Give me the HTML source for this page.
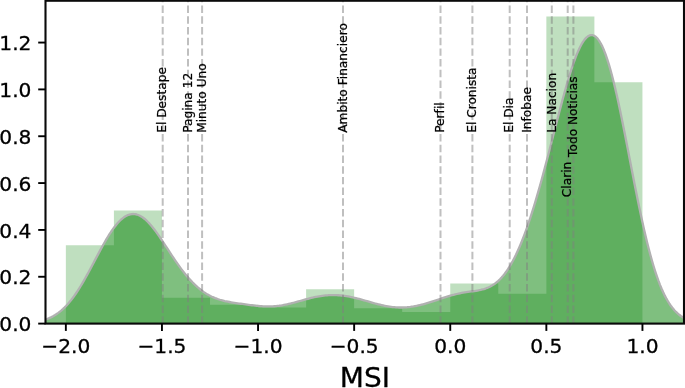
<!DOCTYPE html>
<html><head><meta charset="utf-8"><title>MSI</title>
<style>html,body{margin:0;padding:0;background:#fff;overflow:hidden}svg{display:block}text{font-variant-ligatures:none;font-feature-settings:"liga" 0,"clig" 0;font-kerning:normal;font-family:"DejaVu Sans","Liberation Sans",sans-serif;fill:#000}</style></head><body>
<svg width="685" height="388" viewBox="0 0 685 388">
<rect x="0" y="0" width="685" height="388" fill="#fff"/>
<defs><clipPath id="ax"><rect x="45.5" y="0.75" width="638.5" height="322.85"/></clipPath></defs>
<g clip-path="url(#ax)">
<path d="M65.85,323.60 L65.85,245.14 L113.90,245.14 L113.90,210.48 L161.95,210.48 L161.95,297.84 L210.00,297.84 L210.00,304.86 L258.05,304.86 L258.05,307.44 L306.10,307.44 L306.10,289.31 L354.15,289.31 L354.15,308.31 L402.20,308.31 L402.20,312.12 L450.25,312.12 L450.25,283.55 L498.30,283.55 L498.30,293.69 L546.35,293.69 L546.35,16.56 L594.40,16.56 L594.40,82.37 L642.45,82.37 L642.45,323.60 Z" fill="rgb(0,128,0)" fill-opacity="0.25" stroke="none"/>
<path d="M45.50,319.57 L47.10,319.00 L48.70,318.36 L50.30,317.66 L51.90,316.87 L53.50,316.01 L55.10,315.06 L56.70,314.02 L58.30,312.89 L59.90,311.67 L61.50,310.34 L63.10,308.90 L64.70,307.36 L66.30,305.72 L67.90,303.96 L69.50,302.09 L71.10,300.11 L72.70,298.02 L74.30,295.82 L75.90,293.52 L77.51,291.11 L79.11,288.61 L80.71,286.02 L82.31,283.34 L83.91,280.59 L85.51,277.76 L87.11,274.88 L88.71,271.94 L90.31,268.97 L91.91,265.96 L93.51,262.93 L95.11,259.90 L96.71,256.87 L98.31,253.85 L99.91,250.86 L101.51,247.92 L103.11,245.02 L104.71,242.20 L106.31,239.45 L107.91,236.78 L109.51,234.22 L111.11,231.77 L112.71,229.44 L114.31,227.24 L115.91,225.18 L117.51,223.28 L119.11,221.53 L120.71,219.95 L122.31,218.55 L123.91,217.33 L125.51,216.29 L127.11,215.44 L128.71,214.79 L130.31,214.34 L131.91,214.08 L133.51,214.02 L135.11,214.17 L136.71,214.50 L138.31,215.03 L139.91,215.75 L141.52,216.65 L143.12,217.73 L144.72,218.98 L146.32,220.39 L147.92,221.95 L149.52,223.65 L151.12,225.48 L152.72,227.42 L154.32,229.48 L155.92,231.62 L157.52,233.85 L159.12,236.15 L160.72,238.50 L162.32,240.90 L163.92,243.33 L165.52,245.78 L167.12,248.23 L168.72,250.69 L170.32,253.14 L171.92,255.57 L173.52,257.97 L175.12,260.33 L176.72,262.65 L178.32,264.93 L179.92,267.15 L181.52,269.32 L183.12,271.42 L184.72,273.46 L186.32,275.42 L187.92,277.32 L189.52,279.15 L191.12,280.89 L192.72,282.57 L194.32,284.16 L195.92,285.68 L197.52,287.12 L199.12,288.49 L200.72,289.77 L202.32,290.98 L203.92,292.11 L205.53,293.17 L207.13,294.16 L208.73,295.07 L210.33,295.92 L211.93,296.70 L213.53,297.42 L215.13,298.08 L216.73,298.69 L218.33,299.24 L219.93,299.75 L221.53,300.21 L223.13,300.63 L224.73,301.02 L226.33,301.37 L227.93,301.70 L229.53,302.00 L231.13,302.29 L232.73,302.56 L234.33,302.81 L235.93,303.06 L237.53,303.30 L239.13,303.53 L240.73,303.76 L242.33,303.98 L243.93,304.20 L245.53,304.42 L247.13,304.64 L248.73,304.85 L250.33,305.06 L251.93,305.26 L253.53,305.45 L255.13,305.63 L256.73,305.80 L258.33,305.96 L259.93,306.10 L261.53,306.22 L263.13,306.31 L264.73,306.39 L266.33,306.44 L267.93,306.46 L269.54,306.45 L271.14,306.42 L272.74,306.35 L274.34,306.25 L275.94,306.12 L277.54,305.95 L279.14,305.76 L280.74,305.53 L282.34,305.27 L283.94,304.98 L285.54,304.67 L287.14,304.33 L288.74,303.97 L290.34,303.58 L291.94,303.18 L293.54,302.76 L295.14,302.33 L296.74,301.89 L298.34,301.44 L299.94,300.99 L301.54,300.53 L303.14,300.08 L304.74,299.64 L306.34,299.20 L307.94,298.77 L309.54,298.36 L311.14,297.96 L312.74,297.58 L314.34,297.22 L315.94,296.88 L317.54,296.57 L319.14,296.28 L320.74,296.02 L322.34,295.79 L323.94,295.59 L325.54,295.42 L327.14,295.28 L328.74,295.17 L330.34,295.10 L331.94,295.06 L333.55,295.05 L335.15,295.08 L336.75,295.14 L338.35,295.23 L339.95,295.35 L341.55,295.51 L343.15,295.70 L344.75,295.91 L346.35,296.16 L347.95,296.43 L349.55,296.72 L351.15,297.05 L352.75,297.39 L354.35,297.76 L355.95,298.14 L357.55,298.55 L359.15,298.97 L360.75,299.40 L362.35,299.84 L363.95,300.29 L365.55,300.75 L367.15,301.21 L368.75,301.67 L370.35,302.14 L371.95,302.59 L373.55,303.04 L375.15,303.49 L376.75,303.92 L378.35,304.33 L379.95,304.73 L381.55,305.11 L383.15,305.47 L384.75,305.81 L386.35,306.12 L387.95,306.40 L389.55,306.65 L391.15,306.87 L392.75,307.07 L394.35,307.22 L395.95,307.35 L397.56,307.44 L399.16,307.49 L400.76,307.51 L402.36,307.49 L403.96,307.44 L405.56,307.35 L407.16,307.23 L408.76,307.07 L410.36,306.88 L411.96,306.65 L413.56,306.40 L415.16,306.11 L416.76,305.80 L418.36,305.46 L419.96,305.09 L421.56,304.70 L423.16,304.28 L424.76,303.85 L426.36,303.39 L427.96,302.91 L429.56,302.42 L431.16,301.92 L432.76,301.40 L434.36,300.88 L435.96,300.35 L437.56,299.81 L439.16,299.27 L440.76,298.74 L442.36,298.20 L443.96,297.68 L445.56,297.16 L447.16,296.65 L448.76,296.16 L450.36,295.69 L451.96,295.23 L453.56,294.80 L455.16,294.39 L456.76,294.00 L458.36,293.63 L459.96,293.30 L461.57,292.98 L463.17,292.69 L464.77,292.42 L466.37,292.17 L467.97,291.93 L469.57,291.70 L471.17,291.48 L472.77,291.25 L474.37,291.02 L475.97,290.78 L477.57,290.51 L479.17,290.21 L480.77,289.87 L482.37,289.49 L483.97,289.04 L485.57,288.53 L487.17,287.94 L488.77,287.26 L490.37,286.48 L491.97,285.60 L493.57,284.60 L495.17,283.48 L496.77,282.22 L498.37,280.82 L499.97,279.28 L501.57,277.59 L503.17,275.73 L504.77,273.71 L506.37,271.53 L507.97,269.17 L509.57,266.64 L511.17,263.93 L512.77,261.05 L514.37,257.98 L515.97,254.74 L517.57,251.31 L519.17,247.71 L520.77,243.93 L522.37,239.97 L523.97,235.84 L525.58,231.54 L527.18,227.07 L528.78,222.43 L530.38,217.63 L531.98,212.67 L533.58,207.56 L535.18,202.31 L536.78,196.91 L538.38,191.39 L539.98,185.74 L541.58,179.97 L543.18,174.10 L544.78,168.13 L546.38,162.08 L547.98,155.96 L549.58,149.78 L551.18,143.57 L552.78,137.32 L554.38,131.07 L555.98,124.83 L557.58,118.62 L559.18,112.45 L560.78,106.36 L562.38,100.36 L563.98,94.47 L565.58,88.72 L567.18,83.14 L568.78,77.74 L570.38,72.55 L571.98,67.60 L573.58,62.90 L575.18,58.50 L576.78,54.40 L578.38,50.64 L579.98,47.23 L581.58,44.21 L583.18,41.58 L584.78,39.37 L586.38,37.61 L587.98,36.29 L589.59,35.45 L591.19,35.09 L592.79,35.22 L594.39,35.86 L595.99,37.00 L597.59,38.65 L599.19,40.81 L600.79,43.47 L602.39,46.64 L603.99,50.30 L605.59,54.44 L607.19,59.05 L608.79,64.10 L610.39,69.59 L611.99,75.48 L613.59,81.75 L615.19,88.37 L616.79,95.32 L618.39,102.56 L619.99,110.05 L621.59,117.77 L623.19,125.68 L624.79,133.74 L626.39,141.91 L627.99,150.15 L629.59,158.44 L631.19,166.73 L632.79,174.98 L634.39,183.17 L635.99,191.25 L637.59,199.21 L639.19,207.00 L640.79,214.60 L642.39,221.99 L643.99,229.14 L645.59,236.04 L647.19,242.66 L648.79,249.00 L650.39,255.05 L651.99,260.79 L653.60,266.22 L655.20,271.34 L656.80,276.14 L658.40,280.64 L660.00,284.83 L661.60,288.72 L663.20,292.32 L664.80,295.63 L666.40,298.67 L668.00,301.45 L669.60,303.99 L671.20,306.29 L672.80,308.37 L674.40,310.24 L676.00,311.92 L677.60,313.43 L679.20,314.77 L680.80,315.96 L682.40,317.01 L684.00,317.93 L684.00,323.60 L45.50,323.60 Z" fill="rgb(0,128,0)" fill-opacity="0.5" stroke="none"/>
<path d="M45.50,319.57 L47.10,319.00 L48.70,318.36 L50.30,317.66 L51.90,316.87 L53.50,316.01 L55.10,315.06 L56.70,314.02 L58.30,312.89 L59.90,311.67 L61.50,310.34 L63.10,308.90 L64.70,307.36 L66.30,305.72 L67.90,303.96 L69.50,302.09 L71.10,300.11 L72.70,298.02 L74.30,295.82 L75.90,293.52 L77.51,291.11 L79.11,288.61 L80.71,286.02 L82.31,283.34 L83.91,280.59 L85.51,277.76 L87.11,274.88 L88.71,271.94 L90.31,268.97 L91.91,265.96 L93.51,262.93 L95.11,259.90 L96.71,256.87 L98.31,253.85 L99.91,250.86 L101.51,247.92 L103.11,245.02 L104.71,242.20 L106.31,239.45 L107.91,236.78 L109.51,234.22 L111.11,231.77 L112.71,229.44 L114.31,227.24 L115.91,225.18 L117.51,223.28 L119.11,221.53 L120.71,219.95 L122.31,218.55 L123.91,217.33 L125.51,216.29 L127.11,215.44 L128.71,214.79 L130.31,214.34 L131.91,214.08 L133.51,214.02 L135.11,214.17 L136.71,214.50 L138.31,215.03 L139.91,215.75 L141.52,216.65 L143.12,217.73 L144.72,218.98 L146.32,220.39 L147.92,221.95 L149.52,223.65 L151.12,225.48 L152.72,227.42 L154.32,229.48 L155.92,231.62 L157.52,233.85 L159.12,236.15 L160.72,238.50 L162.32,240.90 L163.92,243.33 L165.52,245.78 L167.12,248.23 L168.72,250.69 L170.32,253.14 L171.92,255.57 L173.52,257.97 L175.12,260.33 L176.72,262.65 L178.32,264.93 L179.92,267.15 L181.52,269.32 L183.12,271.42 L184.72,273.46 L186.32,275.42 L187.92,277.32 L189.52,279.15 L191.12,280.89 L192.72,282.57 L194.32,284.16 L195.92,285.68 L197.52,287.12 L199.12,288.49 L200.72,289.77 L202.32,290.98 L203.92,292.11 L205.53,293.17 L207.13,294.16 L208.73,295.07 L210.33,295.92 L211.93,296.70 L213.53,297.42 L215.13,298.08 L216.73,298.69 L218.33,299.24 L219.93,299.75 L221.53,300.21 L223.13,300.63 L224.73,301.02 L226.33,301.37 L227.93,301.70 L229.53,302.00 L231.13,302.29 L232.73,302.56 L234.33,302.81 L235.93,303.06 L237.53,303.30 L239.13,303.53 L240.73,303.76 L242.33,303.98 L243.93,304.20 L245.53,304.42 L247.13,304.64 L248.73,304.85 L250.33,305.06 L251.93,305.26 L253.53,305.45 L255.13,305.63 L256.73,305.80 L258.33,305.96 L259.93,306.10 L261.53,306.22 L263.13,306.31 L264.73,306.39 L266.33,306.44 L267.93,306.46 L269.54,306.45 L271.14,306.42 L272.74,306.35 L274.34,306.25 L275.94,306.12 L277.54,305.95 L279.14,305.76 L280.74,305.53 L282.34,305.27 L283.94,304.98 L285.54,304.67 L287.14,304.33 L288.74,303.97 L290.34,303.58 L291.94,303.18 L293.54,302.76 L295.14,302.33 L296.74,301.89 L298.34,301.44 L299.94,300.99 L301.54,300.53 L303.14,300.08 L304.74,299.64 L306.34,299.20 L307.94,298.77 L309.54,298.36 L311.14,297.96 L312.74,297.58 L314.34,297.22 L315.94,296.88 L317.54,296.57 L319.14,296.28 L320.74,296.02 L322.34,295.79 L323.94,295.59 L325.54,295.42 L327.14,295.28 L328.74,295.17 L330.34,295.10 L331.94,295.06 L333.55,295.05 L335.15,295.08 L336.75,295.14 L338.35,295.23 L339.95,295.35 L341.55,295.51 L343.15,295.70 L344.75,295.91 L346.35,296.16 L347.95,296.43 L349.55,296.72 L351.15,297.05 L352.75,297.39 L354.35,297.76 L355.95,298.14 L357.55,298.55 L359.15,298.97 L360.75,299.40 L362.35,299.84 L363.95,300.29 L365.55,300.75 L367.15,301.21 L368.75,301.67 L370.35,302.14 L371.95,302.59 L373.55,303.04 L375.15,303.49 L376.75,303.92 L378.35,304.33 L379.95,304.73 L381.55,305.11 L383.15,305.47 L384.75,305.81 L386.35,306.12 L387.95,306.40 L389.55,306.65 L391.15,306.87 L392.75,307.07 L394.35,307.22 L395.95,307.35 L397.56,307.44 L399.16,307.49 L400.76,307.51 L402.36,307.49 L403.96,307.44 L405.56,307.35 L407.16,307.23 L408.76,307.07 L410.36,306.88 L411.96,306.65 L413.56,306.40 L415.16,306.11 L416.76,305.80 L418.36,305.46 L419.96,305.09 L421.56,304.70 L423.16,304.28 L424.76,303.85 L426.36,303.39 L427.96,302.91 L429.56,302.42 L431.16,301.92 L432.76,301.40 L434.36,300.88 L435.96,300.35 L437.56,299.81 L439.16,299.27 L440.76,298.74 L442.36,298.20 L443.96,297.68 L445.56,297.16 L447.16,296.65 L448.76,296.16 L450.36,295.69 L451.96,295.23 L453.56,294.80 L455.16,294.39 L456.76,294.00 L458.36,293.63 L459.96,293.30 L461.57,292.98 L463.17,292.69 L464.77,292.42 L466.37,292.17 L467.97,291.93 L469.57,291.70 L471.17,291.48 L472.77,291.25 L474.37,291.02 L475.97,290.78 L477.57,290.51 L479.17,290.21 L480.77,289.87 L482.37,289.49 L483.97,289.04 L485.57,288.53 L487.17,287.94 L488.77,287.26 L490.37,286.48 L491.97,285.60 L493.57,284.60 L495.17,283.48 L496.77,282.22 L498.37,280.82 L499.97,279.28 L501.57,277.59 L503.17,275.73 L504.77,273.71 L506.37,271.53 L507.97,269.17 L509.57,266.64 L511.17,263.93 L512.77,261.05 L514.37,257.98 L515.97,254.74 L517.57,251.31 L519.17,247.71 L520.77,243.93 L522.37,239.97 L523.97,235.84 L525.58,231.54 L527.18,227.07 L528.78,222.43 L530.38,217.63 L531.98,212.67 L533.58,207.56 L535.18,202.31 L536.78,196.91 L538.38,191.39 L539.98,185.74 L541.58,179.97 L543.18,174.10 L544.78,168.13 L546.38,162.08 L547.98,155.96 L549.58,149.78 L551.18,143.57 L552.78,137.32 L554.38,131.07 L555.98,124.83 L557.58,118.62 L559.18,112.45 L560.78,106.36 L562.38,100.36 L563.98,94.47 L565.58,88.72 L567.18,83.14 L568.78,77.74 L570.38,72.55 L571.98,67.60 L573.58,62.90 L575.18,58.50 L576.78,54.40 L578.38,50.64 L579.98,47.23 L581.58,44.21 L583.18,41.58 L584.78,39.37 L586.38,37.61 L587.98,36.29 L589.59,35.45 L591.19,35.09 L592.79,35.22 L594.39,35.86 L595.99,37.00 L597.59,38.65 L599.19,40.81 L600.79,43.47 L602.39,46.64 L603.99,50.30 L605.59,54.44 L607.19,59.05 L608.79,64.10 L610.39,69.59 L611.99,75.48 L613.59,81.75 L615.19,88.37 L616.79,95.32 L618.39,102.56 L619.99,110.05 L621.59,117.77 L623.19,125.68 L624.79,133.74 L626.39,141.91 L627.99,150.15 L629.59,158.44 L631.19,166.73 L632.79,174.98 L634.39,183.17 L635.99,191.25 L637.59,199.21 L639.19,207.00 L640.79,214.60 L642.39,221.99 L643.99,229.14 L645.59,236.04 L647.19,242.66 L648.79,249.00 L650.39,255.05 L651.99,260.79 L653.60,266.22 L655.20,271.34 L656.80,276.14 L658.40,280.64 L660.00,284.83 L661.60,288.72 L663.20,292.32 L664.80,295.63 L666.40,298.67 L668.00,301.45 L669.60,303.99 L671.20,306.29 L672.80,308.37 L674.40,310.24 L676.00,311.92 L677.60,313.43 L679.20,314.77 L680.80,315.96 L682.40,317.01 L684.00,317.93" fill="none" stroke="rgb(177,177,177)" stroke-width="2.3" stroke-linejoin="round"/>
<line x1="162.70" y1="323.60" x2="162.70" y2="0.75" stroke="rgb(128,128,128)" stroke-opacity="0.5" stroke-width="2" stroke-dasharray="7.47 3.24"/>
<line x1="188.00" y1="323.60" x2="188.00" y2="0.75" stroke="rgb(128,128,128)" stroke-opacity="0.5" stroke-width="2" stroke-dasharray="7.47 3.24"/>
<line x1="202.10" y1="323.60" x2="202.10" y2="0.75" stroke="rgb(128,128,128)" stroke-opacity="0.5" stroke-width="2" stroke-dasharray="7.47 3.24"/>
<line x1="343.00" y1="323.60" x2="343.00" y2="0.75" stroke="rgb(128,128,128)" stroke-opacity="0.5" stroke-width="2" stroke-dasharray="7.47 3.24"/>
<line x1="440.50" y1="323.60" x2="440.50" y2="0.75" stroke="rgb(128,128,128)" stroke-opacity="0.5" stroke-width="2" stroke-dasharray="7.47 3.24"/>
<line x1="472.40" y1="323.60" x2="472.40" y2="0.75" stroke="rgb(128,128,128)" stroke-opacity="0.5" stroke-width="2" stroke-dasharray="7.47 3.24"/>
<line x1="509.70" y1="323.60" x2="509.70" y2="0.75" stroke="rgb(128,128,128)" stroke-opacity="0.5" stroke-width="2" stroke-dasharray="7.47 3.24"/>
<line x1="527.00" y1="323.60" x2="527.00" y2="0.75" stroke="rgb(128,128,128)" stroke-opacity="0.5" stroke-width="2" stroke-dasharray="7.47 3.24"/>
<line x1="551.80" y1="323.60" x2="551.80" y2="0.75" stroke="rgb(128,128,128)" stroke-opacity="0.5" stroke-width="2" stroke-dasharray="7.47 3.24"/>
<line x1="567.70" y1="323.60" x2="567.70" y2="0.75" stroke="rgb(128,128,128)" stroke-opacity="0.5" stroke-width="2" stroke-dasharray="7.47 3.24"/>
<line x1="573.40" y1="323.60" x2="573.40" y2="0.75" stroke="rgb(128,128,128)" stroke-opacity="0.5" stroke-width="2" stroke-dasharray="7.47 3.24"/>
</g>
<text transform="translate(166.40,132.80) rotate(-90)" font-size="12.2" text-anchor="start" stroke="#000" stroke-width="0.25">El Destape</text>
<text transform="translate(191.70,132.80) rotate(-90)" font-size="12.2" text-anchor="start" stroke="#000" stroke-width="0.25">Pagina 12</text>
<text transform="translate(205.80,132.80) rotate(-90)" font-size="12.2" text-anchor="start" stroke="#000" stroke-width="0.25">Minuto Uno</text>
<text transform="translate(346.70,132.80) rotate(-90)" font-size="12.2" text-anchor="start" stroke="#000" stroke-width="0.25">Ambito Financiero</text>
<text transform="translate(444.20,132.80) rotate(-90)" font-size="12.2" text-anchor="start" stroke="#000" stroke-width="0.25">Perfil</text>
<text transform="translate(476.10,132.80) rotate(-90)" font-size="12.2" text-anchor="start" stroke="#000" stroke-width="0.25">El Cronista</text>
<text transform="translate(513.40,132.80) rotate(-90)" font-size="12.2" text-anchor="start" stroke="#000" stroke-width="0.25">El Dia</text>
<text transform="translate(530.70,132.80) rotate(-90)" font-size="12.2" text-anchor="start" stroke="#000" stroke-width="0.25">Infobae</text>
<text transform="translate(555.50,132.80) rotate(-90)" font-size="12.2" text-anchor="start" stroke="#000" stroke-width="0.25">La Nacion</text>
<text transform="translate(571.40,197.20) rotate(-90)" font-size="12.2" text-anchor="start" stroke="#000" stroke-width="0.25">Clarin</text>
<text transform="translate(577.10,156.90) rotate(-90)" font-size="12.2" text-anchor="start" stroke="#000" stroke-width="0.25">Todo Noticias</text>
<rect x="45.5" y="0.75" width="638.5" height="322.85" fill="none" stroke="#0a0a0a" stroke-width="2.1" stroke-linejoin="miter"/>
<line x1="65.85" y1="323.60" x2="65.85" y2="330.90" stroke="#000" stroke-width="1.9"/>
<text x="65.85" y="353.3" font-size="20.2" text-anchor="middle" stroke="#000" stroke-width="0.3">−2.0</text>
<line x1="161.95" y1="323.60" x2="161.95" y2="330.90" stroke="#000" stroke-width="1.9"/>
<text x="161.95" y="353.3" font-size="20.2" text-anchor="middle" stroke="#000" stroke-width="0.3">−1.5</text>
<line x1="258.05" y1="323.60" x2="258.05" y2="330.90" stroke="#000" stroke-width="1.9"/>
<text x="258.05" y="353.3" font-size="20.2" text-anchor="middle" stroke="#000" stroke-width="0.3">−1.0</text>
<line x1="354.15" y1="323.60" x2="354.15" y2="330.90" stroke="#000" stroke-width="1.9"/>
<text x="354.15" y="353.3" font-size="20.2" text-anchor="middle" stroke="#000" stroke-width="0.3">−0.5</text>
<line x1="450.25" y1="323.60" x2="450.25" y2="330.90" stroke="#000" stroke-width="1.9"/>
<text x="450.25" y="353.3" font-size="20.2" text-anchor="middle" stroke="#000" stroke-width="0.3">0.0</text>
<line x1="546.35" y1="323.60" x2="546.35" y2="330.90" stroke="#000" stroke-width="1.9"/>
<text x="546.35" y="353.3" font-size="20.2" text-anchor="middle" stroke="#000" stroke-width="0.3">0.5</text>
<line x1="642.45" y1="323.60" x2="642.45" y2="330.90" stroke="#000" stroke-width="1.9"/>
<text x="642.45" y="353.3" font-size="20.2" text-anchor="middle" stroke="#000" stroke-width="0.3">1.0</text>
<line x1="45.50" y1="323.60" x2="38.20" y2="323.60" stroke="#000" stroke-width="1.9"/>
<text x="31.4" y="331.20" font-size="20.2" text-anchor="end" stroke="#000" stroke-width="0.3">0.0</text>
<line x1="45.50" y1="276.76" x2="38.20" y2="276.76" stroke="#000" stroke-width="1.9"/>
<text x="31.4" y="284.36" font-size="20.2" text-anchor="end" stroke="#000" stroke-width="0.3">0.2</text>
<line x1="45.50" y1="229.92" x2="38.20" y2="229.92" stroke="#000" stroke-width="1.9"/>
<text x="31.4" y="237.52" font-size="20.2" text-anchor="end" stroke="#000" stroke-width="0.3">0.4</text>
<line x1="45.50" y1="183.08" x2="38.20" y2="183.08" stroke="#000" stroke-width="1.9"/>
<text x="31.4" y="190.68" font-size="20.2" text-anchor="end" stroke="#000" stroke-width="0.3">0.6</text>
<line x1="45.50" y1="136.24" x2="38.20" y2="136.24" stroke="#000" stroke-width="1.9"/>
<text x="31.4" y="143.84" font-size="20.2" text-anchor="end" stroke="#000" stroke-width="0.3">0.8</text>
<line x1="45.50" y1="89.40" x2="38.20" y2="89.40" stroke="#000" stroke-width="1.9"/>
<text x="31.4" y="97.00" font-size="20.2" text-anchor="end" stroke="#000" stroke-width="0.3">1.0</text>
<line x1="45.50" y1="42.56" x2="38.20" y2="42.56" stroke="#000" stroke-width="1.9"/>
<text x="31.4" y="50.16" font-size="20.2" text-anchor="end" stroke="#000" stroke-width="0.3">1.2</text>
<text transform="translate(364.85,386.6) scale(1,0.97)" font-size="28" text-anchor="middle" stroke="#000" stroke-width="0.3">MSI</text>
</svg></body></html>
